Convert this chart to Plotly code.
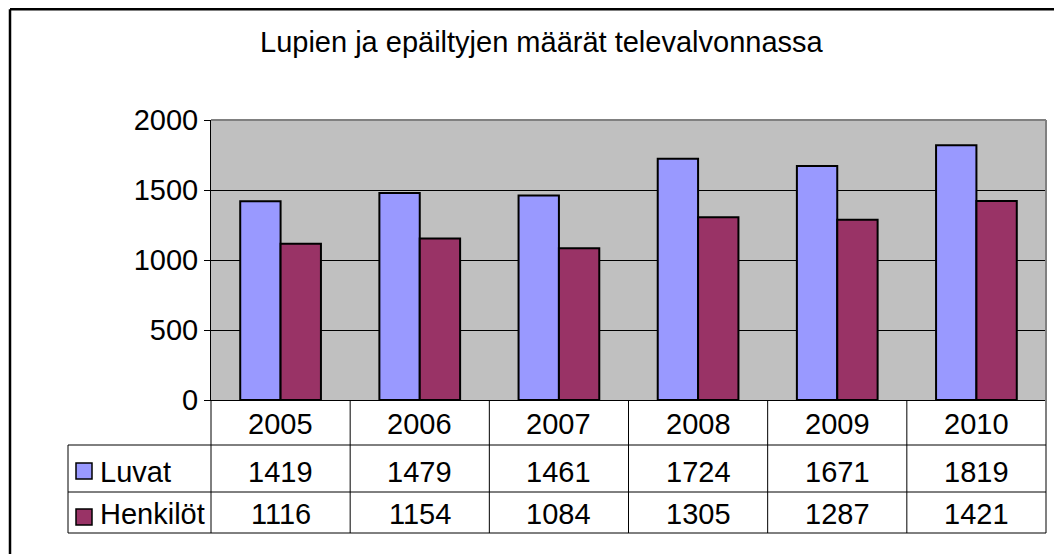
import plotly.graph_objects as go

# data
vuodet = ['2005', '2006', '2007', '2008', '2009', '2010']
luvat = [1419, 1479, 1461, 1724, 1671, 1819]
henkilot = [1116, 1154, 1084, 1305, 1287, 1421]
sarjat = ['Luvat', 'Henkilöt']
varit = ['#9999FF', '#993366']

# page body has an 8px margin, so the figure is a bit smaller
OFF = 8
W, H = 1062 - OFF, 554 - OFF
L, R, T, B = 211, 1046, 120, 400


def px(x):
    return (x - L) / (R - L)


def py(y):
    return (B - y) / (B - T)


fig = go.Figure()
for nimi, arvot, vari in zip(sarjat, [luvat, henkilot], varit):
    fig.add_trace(go.Bar(
        x=vuodet, y=arvot, name=nimi,
        marker=dict(color=vari, line=dict(color='black', width=2)),
        showlegend=False
    ))

shapes = []
ann = []

def viiva(x0, y0, x1, y1, color='black', width=1):
    shapes.append(dict(type='line', xref='paper', yref='paper',
                       x0=px(x0), y0=py(y0), x1=px(x1), y1=py(y1),
                       line=dict(color=color, width=width)))

# outer chart border (cropped)
viiva(10, 570, 10, 9.2, width=2.5)
viiva(10, 9.2, 1080, 9.2, width=2.5)

# plot area border top/right
viiva(L, T, R, T, color='#808080', width=2)
viiva(R, T, R, 533, color='#808080', width=2)

# data table
for yy in [445, 492, 533]:
    viiva(68, yy, R, yy)
viiva(68, 445, 68, 533)
sarake = (R - L) / len(vuodet)
for i in range(len(vuodet)):
    viiva(L + i * sarake, B, L + i * sarake, 533)

fnt = dict(family='Liberation Sans, Arial', size=29, color='black')
for i, v in enumerate(vuodet):
    ann.append(dict(x=i, y=py(424), xref='x', yref='paper', text=v,
                    showarrow=False, font=fnt, xanchor='center', yanchor='middle'))
    ann.append(dict(x=i, y=py(472), xref='x', yref='paper', text=str(luvat[i]),
                    showarrow=False, font=fnt, xanchor='center', yanchor='middle'))
    ann.append(dict(x=i, y=py(514), xref='x', yref='paper', text=str(henkilot[i]),
                    showarrow=False, font=fnt, xanchor='center', yanchor='middle'))

for nimi, vari, yc, ty in zip(sarjat, varit, [471, 517], [472, 514]):
    shapes.append(dict(type='rect', xref='paper', yref='paper',
                       x0=px(76), x1=px(92), y0=py(yc - 8), y1=py(yc + 8),
                       fillcolor=vari, line=dict(color='black', width=1.5)))
    ann.append(dict(x=px(98), y=py(ty), xref='paper', yref='paper', text=nimi,
                    showarrow=False, font=fnt, xanchor='left', yanchor='middle'))

ann.append(dict(x=px(542), y=py(42), xref='paper', yref='paper',
                text='Lupien ja epäiltyjen määrät televalvonnassa',
                showarrow=False, font=fnt, xanchor='center', yanchor='middle'))

fig.update_layout(
    width=W, height=H,
    margin=dict(l=L - OFF, r=1062 - R, t=T - OFF, b=554 - B),
    paper_bgcolor='white', plot_bgcolor='#C0C0C0',
    barmode='group', bargap=0.42, bargroupgap=0,
    font=fnt,
    shapes=shapes, annotations=ann,
    xaxis=dict(range=[-0.5, 5.5], showticklabels=False, showgrid=False,
               showline=True, linecolor='black', linewidth=1, ticks=''),
    yaxis=dict(range=[0, 2000], dtick=500, showgrid=True, gridcolor='black',
               gridwidth=1, showline=True, linecolor='black', linewidth=1,
               ticks='outside', ticklen=6, tickcolor='black',
               tickfont=dict(family='Liberation Sans, Arial', size=29, color='black'),
               zeroline=False),
)

fig.write_html('out.html')
